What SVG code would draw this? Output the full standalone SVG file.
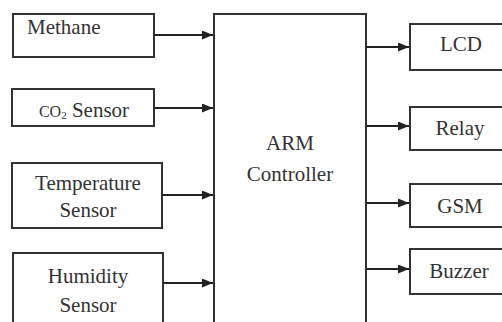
<svg xmlns="http://www.w3.org/2000/svg" width="502" height="322" viewBox="0 0 502 322">
<style>
.box{fill:#fff;stroke:#333;stroke-width:2}
.t{font-family:'Liberation Serif','Times New Roman','DejaVu Serif',Times,serif;font-size:21px;fill:#333;text-anchor:middle}
.c{stroke:#222;stroke-width:2;fill:none}
</style>
<defs>
<marker id="ah" markerWidth="11" markerHeight="9" refX="11" refY="4.5" orient="auto" markerUnits="userSpaceOnUse">
<path d="M0,0 L11,4.5 L0,9 Z" fill="#222"/>
</marker>
</defs>
<rect width="502" height="322" fill="#fff"/>
<g id="methane"><rect class="box" x="13" y="14" width="141" height="43"/><text class="t" x="27" y="34" text-anchor="start" style="text-anchor:start">Methane</text></g>
<g id="co2"><rect class="box" x="12" y="89" width="142" height="37"/><text class="t" x="84" y="117"><tspan font-size="16">CO</tspan><tspan font-size="11" dy="2">2</tspan><tspan dy="-2"> Sensor</tspan></text></g>
<g id="temp"><rect class="box" x="12" y="163" width="150" height="65"/><text class="t" x="88" y="190">Temperature</text><text class="t" x="88" y="217">Sensor</text></g>
<g id="humidity"><rect class="box" x="13" y="253" width="150" height="80"/><text class="t" x="88" y="283">Humidity</text><text class="t" x="88" y="312">Sensor</text></g>
<g id="arm"><rect class="box" x="214" y="14" width="152" height="320"/><text class="t" x="290" y="150">ARM</text><text class="t" x="290" y="181">Controller</text></g>
<g id="lcd"><rect class="box" x="410" y="24" width="104" height="46"/><text class="t" x="461" y="51">LCD</text></g>
<g id="relay"><rect class="box" x="410" y="107" width="104" height="43"/><text class="t" x="460" y="135">Relay</text></g>
<g id="gsm"><rect class="box" x="410" y="184" width="104" height="43"/><text class="t" x="460" y="213">GSM</text></g>
<g id="buzzer"><rect class="box" x="410" y="249" width="104" height="45"/><text class="t" x="459" y="278">Buzzer</text></g>
<g id="connectors">
<line class="c" x1="154" y1="35" x2="213" y2="35" marker-end="url(#ah)"/>
<line class="c" x1="154" y1="108" x2="213" y2="108" marker-end="url(#ah)"/>
<line class="c" x1="162" y1="195" x2="213" y2="195" marker-end="url(#ah)"/>
<line class="c" x1="163" y1="283" x2="213" y2="283" marker-end="url(#ah)"/>
<line class="c" x1="366" y1="47" x2="409" y2="47" marker-end="url(#ah)"/>
<line class="c" x1="366" y1="126" x2="409" y2="126" marker-end="url(#ah)"/>
<line class="c" x1="366" y1="203" x2="409" y2="203" marker-end="url(#ah)"/>
<line class="c" x1="366" y1="269" x2="409" y2="269" marker-end="url(#ah)"/>
</g>
</svg>
